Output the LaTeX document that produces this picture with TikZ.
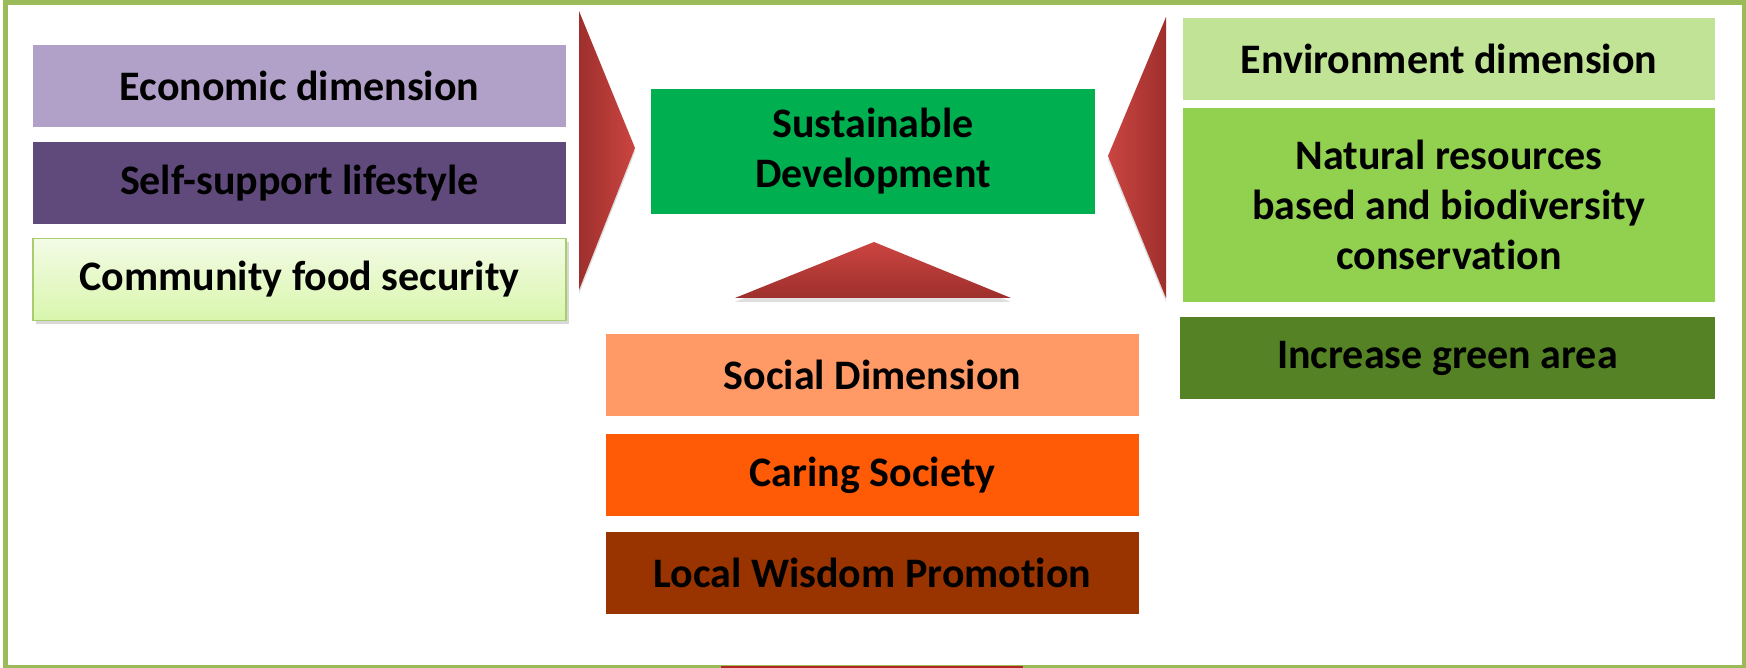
\documentclass[tikz,border=0pt]{standalone}
\usepackage{fontspec}
\setmainfont{Carlito}[Ligatures=NoCommon]
\usetikzlibrary{shadows}
\newcommand\brk{\kern0pt{}}
\definecolor{frameg}{HTML}{9BBB59}
\definecolor{ecoc}{HTML}{B1A0C7}
\definecolor{selfc}{HTML}{604A7B}
\definecolor{comtop}{HTML}{F3FBE6}
\definecolor{combot}{HTML}{D9F6AC}
\definecolor{comline}{HTML}{A9CC6E}
\definecolor{sdc}{HTML}{00B050}
\definecolor{envc}{HTML}{C1E396}
\definecolor{natc}{HTML}{92D050}
\definecolor{incc}{HTML}{548224}
\definecolor{socc}{HTML}{FF9966}
\definecolor{carc}{HTML}{FF5A05}
\definecolor{locc}{HTML}{993300}
\definecolor{trdark}{HTML}{9E2F2C}
\definecolor{trlight}{HTML}{CB4541}
\begin{document}
\begin{tikzpicture}[x=1pt,y=-1pt,
  box/.style={inner sep=0pt, outer sep=0pt, align=center, text=black,
    font=\fontsize{42}{50}\selectfont\bfseries},
  tri/.style={drop shadow={shadow xshift=0pt, shadow yshift=-4pt, opacity=0.25}}]
\useasboundingbox (0,0) rectangle (1746,668);
\fill[white] (0,0) rectangle (1746,668);
% frame
\draw[frameg, line width=5pt] (5,3) rectangle (1744,667);
\fill[trdark!80!red] (721,665.5) rectangle (1023,668);
% left column
\node[box, fill=ecoc, minimum width=533pt, minimum height=82pt] (eco) at (299.5,86) {Economic dimension};
\node[box, fill=selfc, minimum width=533pt, minimum height=82pt] (self) at (299.5,183.5) {Self-support lifestyle};
\node[box, draw=comline, line width=1.5pt, top color=comtop, bottom color=combot,
  drop shadow={shadow xshift=3pt, shadow yshift=-4pt, opacity=0.3},
  minimum width=533pt, minimum height=82pt] (com) at (299.5,279.5) {Community food security};
% centre
\node[box, fill=sdc, minimum width=444pt, minimum height=125pt] (sd) at (873,151.5) {Sustainable\\Development};
% triangles
\shade[tri, left color=trdark, right color=trlight] (579,11) -- (635,148) -- (579,290) -- cycle;
\shade[tri, left color=trlight, right color=trdark] (1166,17) -- (1108,156) -- (1166,298) -- cycle;
\shade[tri, top color=trlight, bottom color=trdark] (735,298) -- (874,242) -- (1011,298) -- cycle;
% bottom column
\node[box, fill=socc, minimum width=533pt, minimum height=82pt] (soc) at (872.5,375) {Social Dimension};
\node[box, fill=carc, minimum width=533pt, minimum height=82pt] (car) at (872.5,475) {Caring Society};
\node[box, fill=locc, minimum width=533pt, minimum height=82pt] (loc) at (872.5,573) {Local Wisdom Promot\brk ion};
% right column
\node[box, fill=envc, minimum width=532pt, minimum height=82pt] (env) at (1449,59) {Environment dimension};
\node[box, fill=natc, minimum width=532pt, minimum height=194pt] (nat) at (1449,205) {Natural resources\\based and biodiversity\\conservat\brk ion};
\node[box, fill=incc, minimum width=535pt, minimum height=82pt] (inc) at (1447.5,358) {Increase green area};
\end{tikzpicture}
\end{document}
